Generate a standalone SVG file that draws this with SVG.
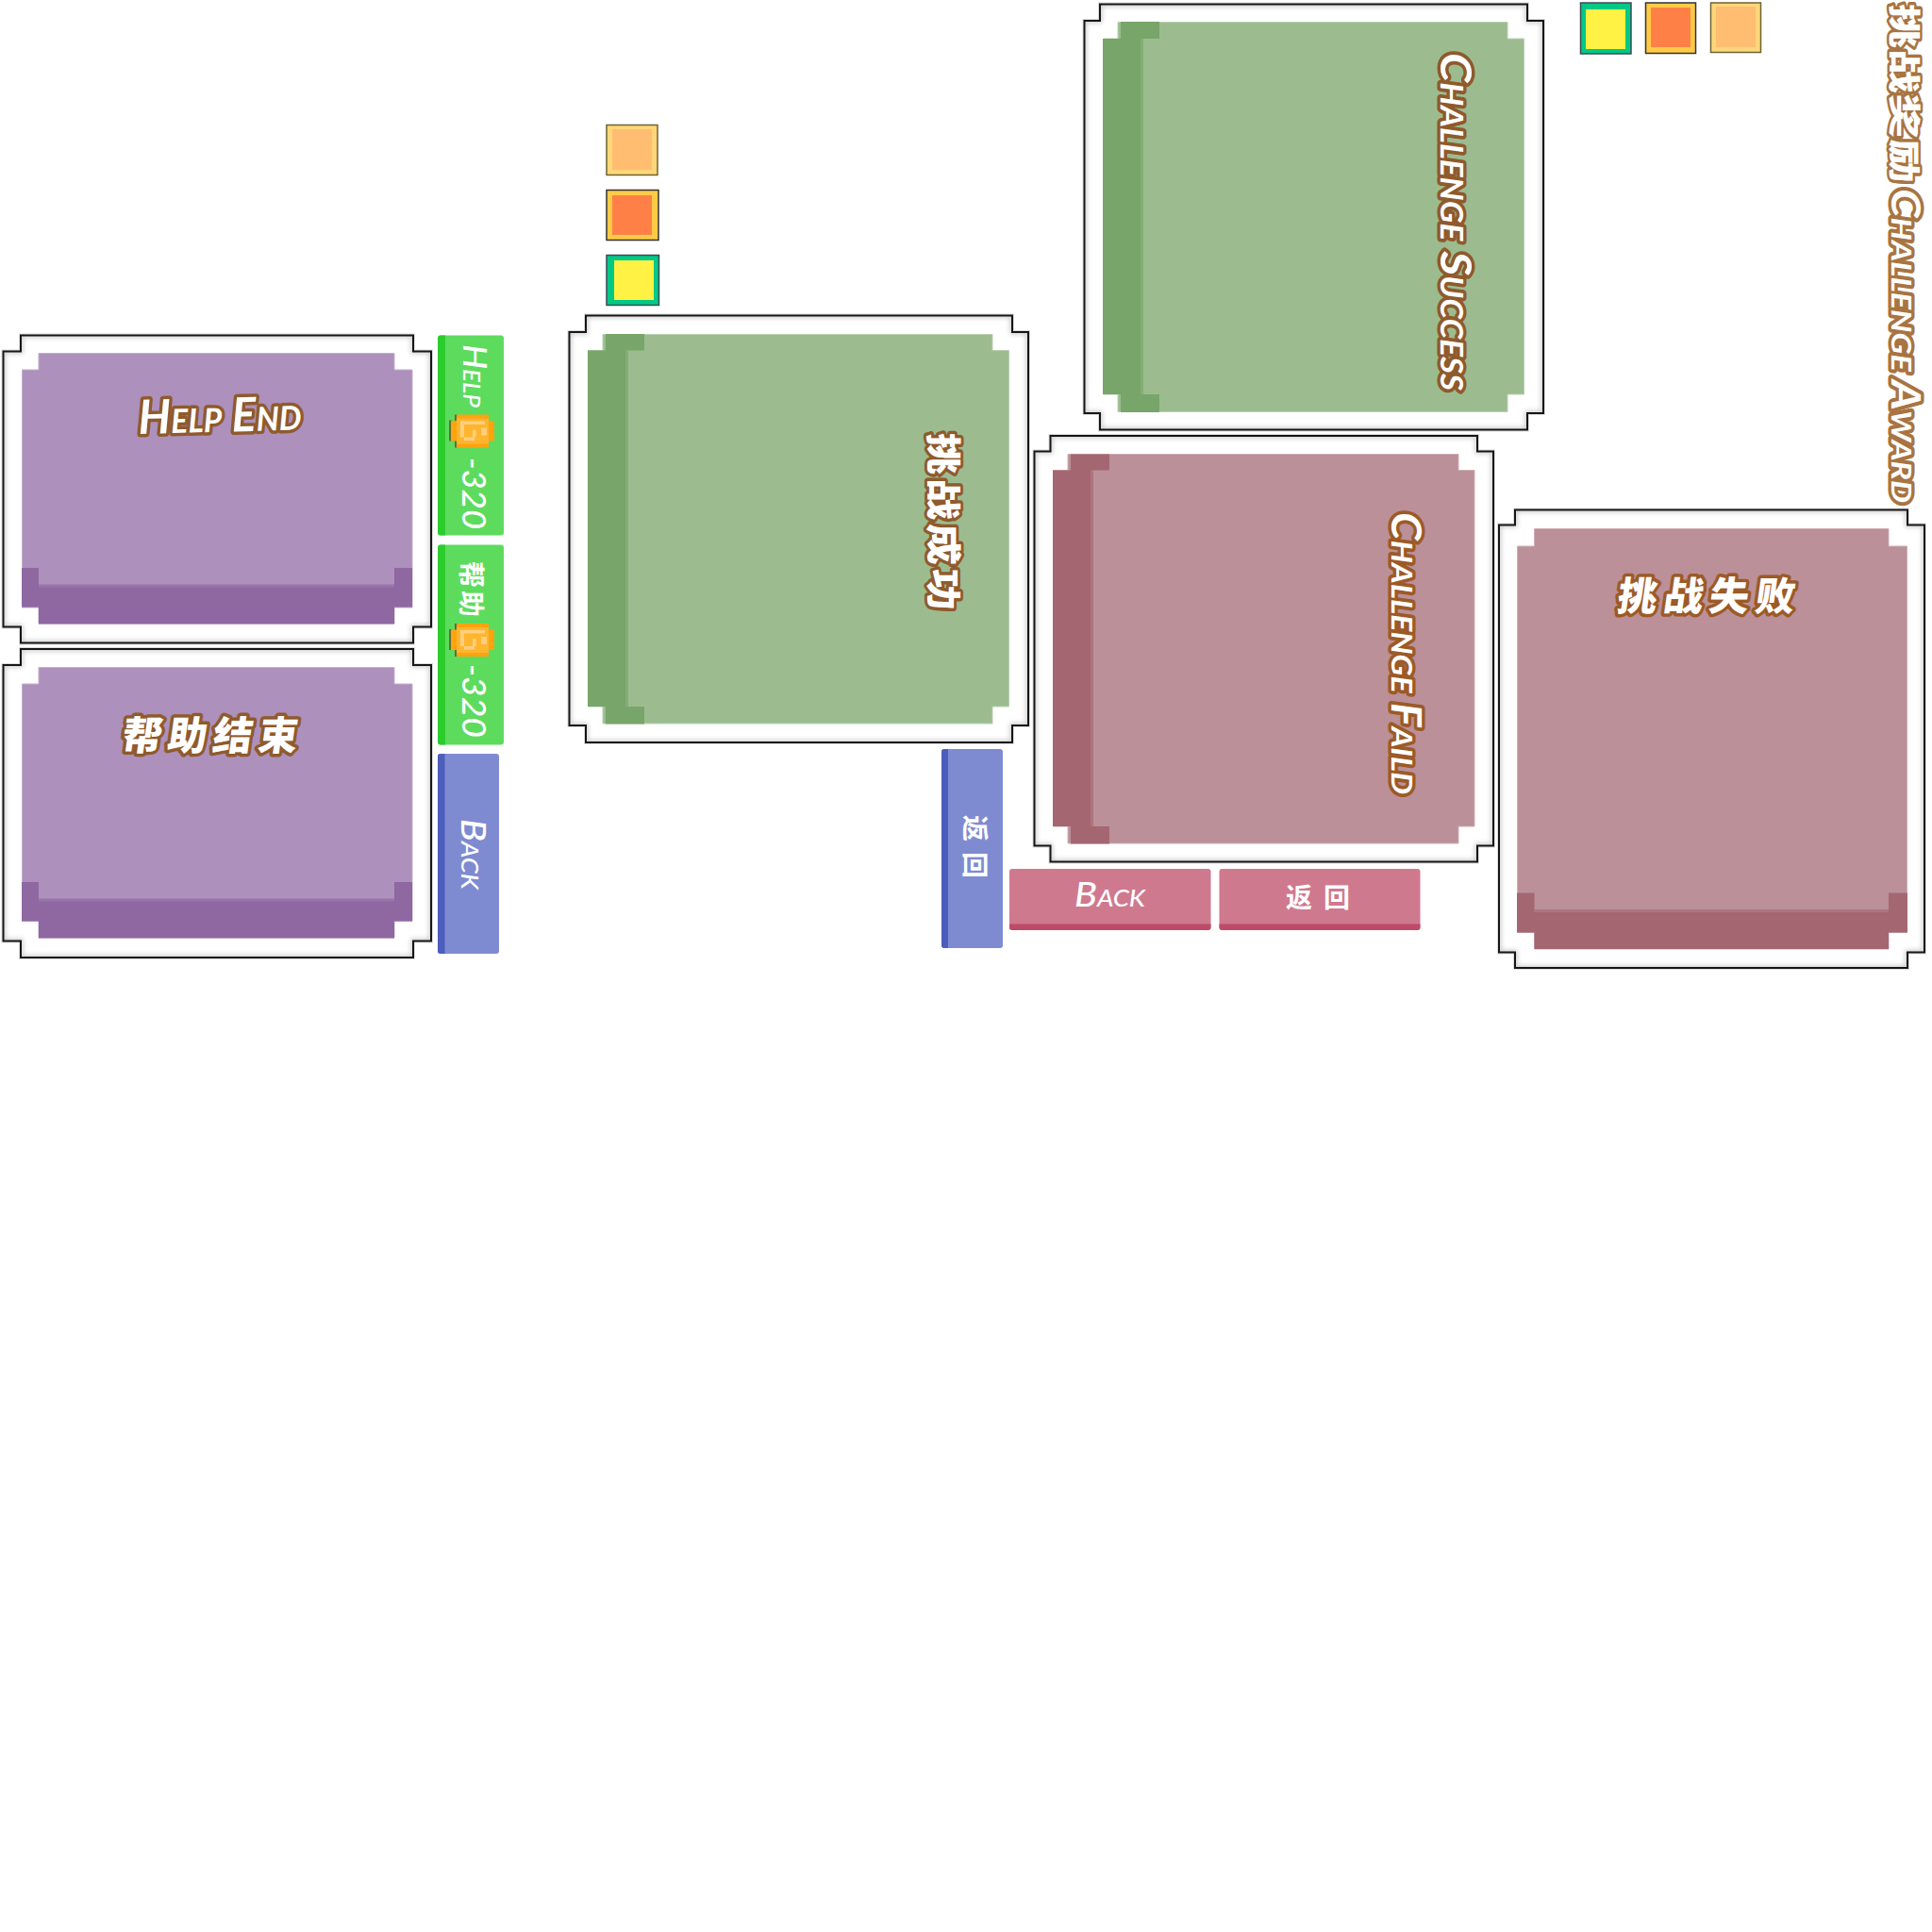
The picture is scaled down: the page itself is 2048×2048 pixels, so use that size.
<svg xmlns="http://www.w3.org/2000/svg" width="2048" height="2048" viewBox="0 0 2048 2048">
<style>
.halo{fill:none;stroke:#dcdcdc;stroke-width:4}
.frame{fill:#fff}
.sh{fill:none;stroke:#555;stroke-width:5;opacity:.3;filter:url(#b)}
.edge{fill:none;stroke:#161616;stroke-width:2}
.pu{fill:#ad90bb;stroke:#c4aecd;stroke-width:1}.pud{fill:#8f68a2}.pus{fill:#9a75ab}
.gr{fill:#9cbc90;stroke:#b9d0b0;stroke-width:1}.grd{fill:#78a569}.grs{fill:#83ae75}
.pk{fill:#bb9098;stroke:#cfaeb5;stroke-width:1}.pkd{fill:#a46772}.pks{fill:#ae757f}
.t{font-family:"Lato","Noto Sans",sans-serif;font-style:italic;font-weight:700;font-variant:small-caps;fill:#fff;stroke:#8f5a2c;stroke-width:7;stroke-linejoin:round;paint-order:stroke fill}
.c{font-family:"Noto Sans CJK SC","Noto Sans",sans-serif;font-weight:900;fill:#fff;stroke:#8f5a2c;stroke-width:7;stroke-linejoin:round;paint-order:stroke fill}
.aw{stroke:#a87442;stroke-width:7}
.l{font-family:"Lato","Noto Sans",sans-serif;font-style:italic;font-weight:500;font-variant:small-caps;fill:#fff}
.lc{font-family:"Noto Sans CJK SC","Noto Sans",sans-serif;font-weight:700;fill:#fff}
.sy{fill:#ffd67a;stroke:#6d6333;stroke-width:1.500}.syi{fill:#ffbd72}
.so{fill:#ffcb47;stroke:#333;stroke-width:1.500}.soi{fill:#ff8047}
.sg{fill:#00c986;stroke:#3f4a55;stroke-width:1.500}.sgi{fill:#fff244}
.bg{fill:#5ddb5d}.bgd{fill:#2bcd2d}.bb{fill:#7f8bd1}.bbd{fill:#4c5ebc}.bp{fill:#cf798f}.bpd{fill:#be4a69}
.c1{fill:#ffa30f}.c2{fill:#ffb52e}.c3{fill:#ffcf80}.c0{fill:#5f6f3a}
</style>
<defs>
<filter id="b" x="-10%" y="-10%" width="120%" height="120%"><feGaussianBlur stdDeviation="2.500"/></filter>
<path id="f1" d="M22 355.500H438V372.500H457V664.500H438V681.500H22V664.500H3.500V372.500H22Z"/>
<path id="f2" d="M22 688H438V705H457V997.500H438V1015H22V997.500H3.500V705H22Z"/>
<path id="f3" d="M621 334.500H1073V352H1090V769H1073V787H621V769H603.500V352H621Z"/>
<path id="f4" d="M1166 4.500H1619V22H1636V438H1619V455.500H1166V438H1149.500V22H1166Z"/>
<path id="f5" d="M1113.500 462H1566V478.500H1583V896.500H1566V913.500H1113.500V896.500H1096.500V478.500H1113.500Z"/>
<path id="f6" d="M1606 540.500H2022V556.500H2040V1009.500H2022V1026H1606V1009.500H1589V556.500H1606Z"/>
<clipPath id="k1"><use href="#f1"/></clipPath>
<clipPath id="k2"><use href="#f2"/></clipPath>
<clipPath id="k3"><use href="#f3"/></clipPath>
<clipPath id="k4"><use href="#f4"/></clipPath>
<clipPath id="k5"><use href="#f5"/></clipPath>
<clipPath id="k6"><use href="#f6"/></clipPath>
<g id="coin">
<rect class="c0" x="-1" y="6" width="3" height="22"/>
<rect class="c0" x="5" y="0" width="3" height="35"/>
<rect class="c1" x="1" y="6.500" width="46" height="21.500"/>
<rect class="c1" x="7" y="0" width="34" height="35"/>
<rect class="c2" x="7" y="4" width="34" height="27"/>
<rect class="c3" x="11" y="7" width="26" height="3.500"/>
<rect class="c3" x="11" y="7" width="4" height="17"/>
<rect class="c3" x="15" y="24" width="11" height="3.500"/>
<rect class="c3" x="24" y="16" width="3.500" height="8"/>
<rect class="c3" x="33" y="14" width="6" height="8"/>
</g>
</defs>

<g id="panel-help-end">
<use href="#f1" class="halo"/><use href="#f1" class="frame"/>
<g clip-path="url(#k1)"><use href="#f1" class="sh"/></g><use href="#f1" class="edge"/>
<path class="pu" d="M41 374.500H418V392H437V644H418V661H41V644H23.500V392H41Z"/>
<path class="pus" d="M41 619.500H418V624H41Z"/>
<path class="pud" d="M23 602H41V622.500H418V602H437V643.500H418V661.500H41V643.500H23Z"/>
<text class="t" transform="translate(147 460) rotate(-1.500)" font-size="50" textLength="173" lengthAdjust="spacingAndGlyphs">Help End</text>
</g>
<g id="panel-help-end-cn">
<use href="#f2" class="halo"/><use href="#f2" class="frame"/>
<g clip-path="url(#k2)"><use href="#f2" class="sh"/></g><use href="#f2" class="edge"/>
<path class="pu" d="M41 707.500H418V725H437V976.500H418V994H41V976.500H23.500V725H41Z"/>
<path class="pus" d="M41 952.500H418V957H41Z"/>
<path class="pud" d="M23 935H41V955.500H418V935H437V976.500H418V994.500H41V976.500H23Z"/>
<text class="c" transform="translate(128 795) skewX(-8)" font-size="42" textLength="186">帮助结束</text>
</g>
<g id="btn-help-en">
<rect class="bg" x="464" y="355.500" width="70" height="212" rx="3"/>
<path class="bgd" d="M467 355.500H472V567.500H467Q464 567.500 464 564V359Q464 355.500 467 355.500Z"/>
<text class="l" transform="translate(491 365) rotate(90)" font-size="34" textLength="67" lengthAdjust="spacingAndGlyphs">Help</text>
<use href="#coin" x="477" y="439.500"/>
<text class="l" transform="translate(490 485) rotate(90)" font-size="34" textLength="76" lengthAdjust="spacingAndGlyphs" font-weight="400">-320</text>
</g>
<g id="btn-help-cn">
<rect class="bg" x="464" y="577.500" width="70" height="212" rx="3"/>
<path class="bgd" d="M467 577.500H472V789.500H467Q464 789.500 464 786V581Q464 577.500 467 577.500Z"/>
<text class="lc" transform="translate(489 595) rotate(90)" font-size="28" textLength="59" font-weight="900">帮助</text>
<use href="#coin" x="477" y="661"/>
<text class="l" transform="translate(490 704) rotate(90)" font-size="34" textLength="78" lengthAdjust="spacingAndGlyphs" font-weight="400">-320</text>
</g>
<g id="btn-back-blue">
<rect class="bb" x="464" y="799" width="65" height="212" rx="3"/>
<path class="bbd" d="M467 799H471.500V1011H467Q464 1011 464 1008V802Q464 799 467 799Z"/>
<text class="l" transform="translate(489 868) rotate(90)" font-size="36" textLength="75" lengthAdjust="spacingAndGlyphs">Back</text>
</g>
<g id="swatches-left">
<rect class="sy" x="643" y="132.500" width="54" height="53"/><rect class="syi" x="649" y="137" width="42" height="43"/>
<rect class="so" x="643" y="201.500" width="55" height="53"/><rect class="soi" x="649" y="207" width="42" height="42"/>
<rect class="sg" x="643" y="270.500" width="55.500" height="53"/><rect class="sgi" x="651" y="276" width="42" height="42"/>
</g>
<g id="panel-success-cn">
<use href="#f3" class="halo"/><use href="#f3" class="frame"/>
<g clip-path="url(#k3)"><use href="#f3" class="sh"/></g><use href="#f3" class="edge"/>
<path class="gr" d="M639 354.500H1052V371.500H1069.500V749H1052V767H639V749H623.500V371.500H639Z"/>
<path class="grs" d="M663 371.500H666V749H663Z"/>
<path class="grd" d="M623 371.500H642V354H683V371.500H663V749H683V767.500H642V749H623Z"/>
<text class="c" transform="translate(986 459) rotate(90) scale(1 .85)" font-size="44" textLength="188">挑战成功</text>
</g>
<g id="btn-back-cn-blue">
<rect class="bb" x="998" y="794" width="65" height="211" rx="3"/>
<path class="bbd" d="M1001 794H1005V1005H1001Q998 1005 998 1002V797Q998 794 1001 794Z"/>
<text class="lc" transform="translate(1023 864) rotate(90)" font-size="28" textLength="67">返回</text>
</g>
<g id="panel-success-en">
<use href="#f4" class="halo"/><use href="#f4" class="frame"/>
<g clip-path="url(#k4)"><use href="#f4" class="sh"/></g><use href="#f4" class="edge"/>
<path class="gr" d="M1185 23.500H1598V41H1615.500V418H1598V436.500H1185V418H1169.500V41H1185Z"/>
<path class="grs" d="M1209 41H1212V418H1209Z"/>
<path class="grd" d="M1169 41H1188V23H1229V41H1209V418H1229V437H1188V418H1169Z"/>
<text class="t" transform="translate(1527 56) rotate(90)" font-size="46" textLength="358" lengthAdjust="spacingAndGlyphs">Challenge Success</text>
</g>
<g id="panel-fail-en">
<use href="#f5" class="halo"/><use href="#f5" class="frame"/>
<g clip-path="url(#k5)"><use href="#f5" class="sh"/></g><use href="#f5" class="edge"/>
<path class="pk" d="M1132 481.500H1546V498.500H1563V876H1546V894H1132V876H1116.500V498.500H1132Z"/>
<path class="pks" d="M1156 498.500H1159V876H1156Z"/>
<path class="pkd" d="M1116 498.500H1135V481.500H1176V498.500H1156V876H1176V894.500H1135V876H1116Z"/>
<text class="t" transform="translate(1475 543) rotate(90)" font-size="44" textLength="299" lengthAdjust="spacingAndGlyphs" style="stroke:#9c5a27">Challenge Faild</text>
</g>
<g id="btn-back-pink">
<rect class="bp" x="1070" y="921" width="213.500" height="65" rx="3"/>
<path class="bpd" d="M1070 979.500H1283.500V983Q1283.500 986 1280 986H1073Q1070 986 1070 983Z"/>
<text class="l" x="1139" y="961" font-size="36" textLength="75" lengthAdjust="spacingAndGlyphs">Back</text>
</g>
<g id="btn-back-cn-pink">
<rect class="bp" x="1292.500" y="921" width="213" height="65" rx="3"/>
<path class="bpd" d="M1292.500 979.500H1505.500V983Q1505.500 986 1502 986H1295.500Q1292.500 986 1292.500 983Z"/>
<text class="lc" x="1363" y="962" font-size="28" textLength="68">返回</text>
</g>
<g id="panel-fail-cn">
<use href="#f6" class="halo"/><use href="#f6" class="frame"/>
<g clip-path="url(#k6)"><use href="#f6" class="sh"/></g><use href="#f6" class="edge"/>
<path class="pk" d="M1626.500 560.500H2002V579H2021.500V988.500H2002V1006H1626.500V988.500H1608.500V579H1626.500Z"/>
<path class="pks" d="M1626.500 964H2002V968H1626.500Z"/>
<path class="pkd" d="M1608 946.500H1626.500V967H2002V946.500H2022V988.500H2002V1006H1626.500V988.500H1608Z"/>
<text class="c" transform="translate(1713 647) skewX(-8)" font-size="42" textLength="188" style="stroke:#9c5a27">挑战失败</text>
</g>
<g id="swatches-top">
<rect class="sg" x="1675.500" y="3" width="53.500" height="54"/><rect class="sgi" x="1681" y="10" width="42" height="42"/>
<rect class="so" x="1744.500" y="3" width="53" height="53.500"/><rect class="soi" x="1750" y="8" width="42" height="42"/>
<rect class="sy" x="1813.500" y="3" width="53" height="52.500"/><rect class="syi" x="1819" y="7" width="42" height="43"/>
</g>
<g id="title-award">
<text class="c aw" transform="translate(2006 4) rotate(90) scale(1 .72)" font-size="47" textLength="190">挑战奖励</text>
<text class="t aw" transform="translate(2005 200) rotate(90)" font-size="42" textLength="333" lengthAdjust="spacingAndGlyphs">Challenge Award</text>
</g>
</svg>
